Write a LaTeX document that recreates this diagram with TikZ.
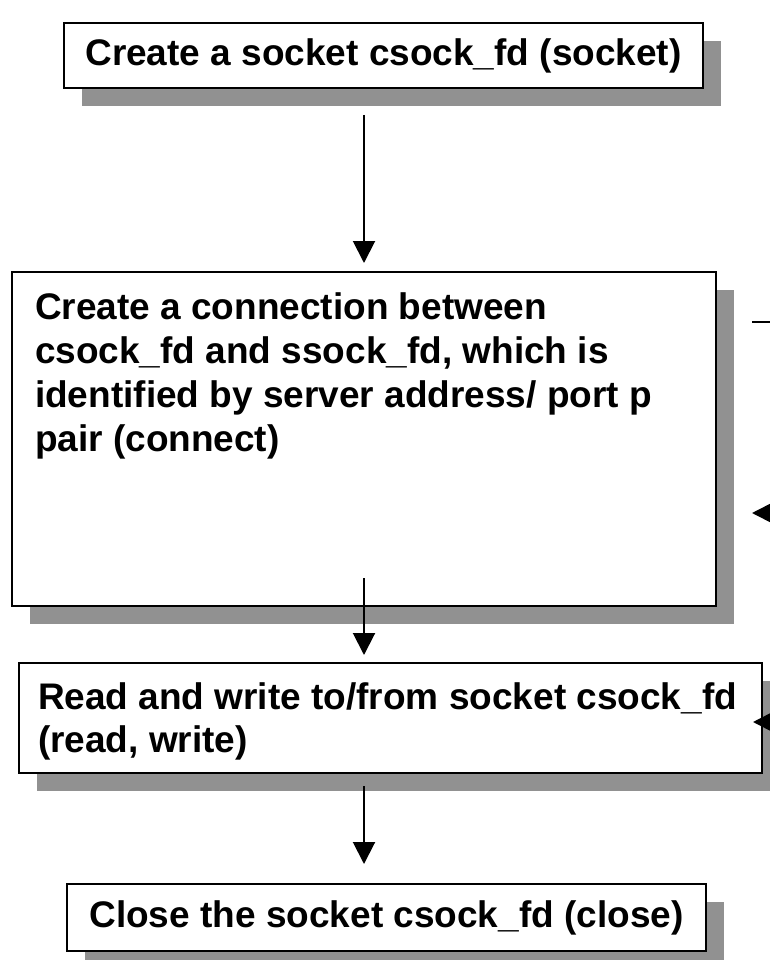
\documentclass[tikz,border=0pt]{standalone}
\usepackage{fontspec}
\setmainfont{Liberation Sans}
\usetikzlibrary{arrows.meta,calc,shadows}
\definecolor{shadowgray}{RGB}{145,145,145}
\begin{document}
\begin{tikzpicture}[x=1pt,y=-1pt,
  box/.style={draw, line width=2.4pt, fill=white, outer sep=0pt, inner sep=0pt,
    anchor=north west,
    general shadow={fill=shadowgray, shadow xshift=18pt, shadow yshift=-18pt},
    font=\fontsize{37}{44}\selectfont\bfseries},
  flow/.style={line width=2pt, -{Triangle[length=22pt,width=22pt]}}]
\useasboundingbox (0,0) rectangle (770,960);
\clip (0,0) rectangle (770,960);

% steps of the client
\node[box, minimum width=639pt, minimum height=65pt] (b1) at (64,23)
  {Create a socket csock\_fd (socket)};
\node[box, minimum width=704pt, minimum height=334pt] (b2) at (12,272)
  {\parbox[c][334pt][t]{658pt}{\vspace*{21pt}Create a connection between\\
   csock\_fd and ssock\_fd, which is\\
   identified by server address/ port p\\
   pair (connect)}};
\node[box, minimum width=743pt, minimum height=110pt] (b3) at (19,663)
  {\parbox[c][110pt][t]{705pt}{\fontsize{37}{43}\selectfont\vspace*{20pt}%
   \mbox{Read and write to/from socket csock\_fd}\\
   (read, write)}};
\node[box, minimum width=639pt, minimum height=67pt] (b4) at (67,884)
  {Close the socket csock\_fd (close)};

% flow between the steps
\draw[flow] ($(b1.south -| b2.north)+(0,27)$) -- ($(b2.north)+(0,-9)$);
\draw[flow] ($(b2.south)+(0,-28)$) -- ($(b3.north -| b2.south)+(0,-8)$);
\draw[flow] ($(b3.south -| b2.south)+(0,13)$) -- ($(b4.north -| b2.south)+(0,-20)$);

% links coming in from the server side
\coordinate (s1) at (752,322);
\coordinate (s1e) at (790,322);
\coordinate (s2) at (752,513);
\coordinate (s2e) at (800,513);
\coordinate (s3) at (753,722);
\coordinate (s3e) at (800,722);
\draw[line width=2pt] (s1) -- (s1e);
\draw[flow] (s2e) -- (s2);
\draw[flow] (s3e) -- (s3);
\end{tikzpicture}
\end{document}
